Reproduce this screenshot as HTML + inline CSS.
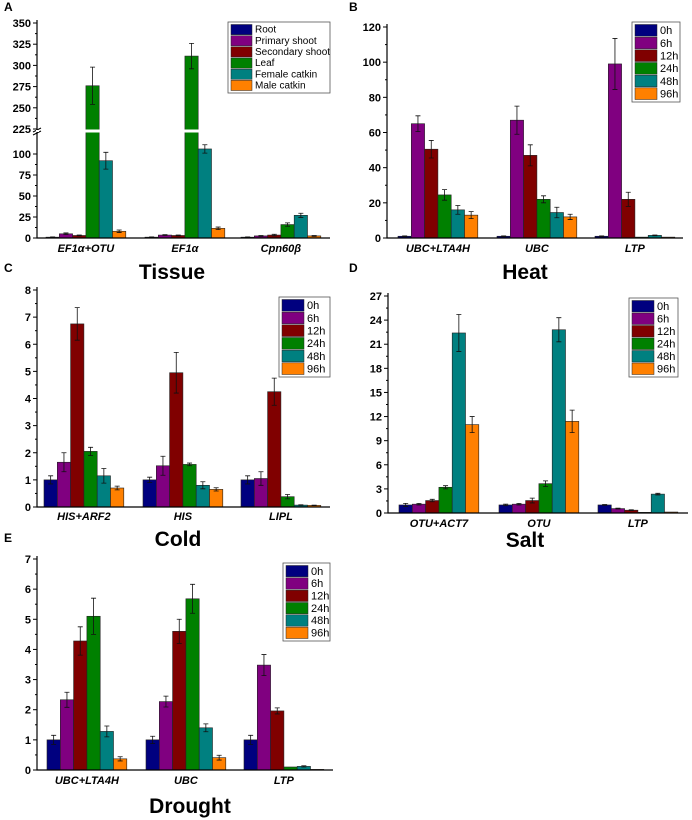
<!DOCTYPE html>
<html><head><meta charset="utf-8"><style>
body{margin:0;background:#fff}
svg{display:block;font-family:"Liberation Sans",sans-serif}
</style></head><body>
<svg id="c" width="692" height="820" viewBox="0 0 692 820" xmlns="http://www.w3.org/2000/svg"></svg>
<script>
const colors=["#00007f","#800080","#800000","#008000","#008080","#ff8000"];
const timeSeries=["0h","6h","12h","24h","48h","96h"];
const tissueSeries=["Root","Primary shoot","Secondary shoot","Leaf","Female catkin","Male catkin"];

const catA=["EF1α+OTU","EF1α","Cpn60β"];
const valA=[[1,1,1],[5,3.5,2.5],[3,3,3.5],[276,311,16],[92,106,27],[8,11.5,2.5]];
const errA=[[0.3,0.3,0.3],[1,0.5,0.5],[0.5,0.5,1],[22,15,2],[10,5,2.5],[1.5,1.5,0.5]];
const ticksAlow=[0,25,50,75,100];
const ticksAhigh=[225,250,275,300,325,350];

const catB=["UBC+LTA4H","UBC","LTP"];
const valB=[[1,1,1],[65,67,99],[50.5,47,22],[24.5,22,0.5],[16,14.5,1.5],[13,12,0.5]];
const errB=[[0.2,0.2,0.2],[4.5,8,14.5],[5,6,4],[3,2,0],[2.5,3,0.2],[2,1.5,0]];
const ticksB=[0,20,40,60,80,100,120];

const catC=["HIS+ARF2","HIS","LIPL"];
const valC=[[1,1,1],[1.65,1.52,1.05],[6.75,4.95,4.25],[2.05,1.57,0.38],[1.15,0.8,0.07],[0.7,0.65,0.06]];
const errC=[[0.15,0.1,0.15],[0.35,0.35,0.25],[0.6,0.75,0.5],[0.15,0.05,0.08],[0.27,0.13,0.01],[0.07,0.06,0.01]];
const ticksC=[0,1,2,3,4,5,6,7,8];

const catD=["OTU+ACT7","OTU","LTP"];
const valD=[[1,1,1],[1.1,1.1,0.55],[1.55,1.55,0.35],[3.2,3.65,0.08],[22.4,22.8,2.35],[11,11.4,0.12]];
const errD=[[0.2,0.1,0.05],[0.1,0.1,0.05],[0.15,0.3,0.05],[0.2,0.35,0],[2.3,1.5,0.1],[1,1.4,0]];
const ticksD=[0,3,6,9,12,15,18,21,24,27];

const catE=["UBC+LTA4H","UBC","LTP"];
const valE=[[1,1,1],[2.33,2.27,3.48],[4.28,4.6,1.96],[5.1,5.68,0.1],[1.28,1.4,0.12],[0.37,0.41,0.02]];
const errE=[[0.15,0.12,0.15],[0.25,0.18,0.35],[0.47,0.4,0.1],[0.6,0.48,0],[0.18,0.13,0.02],[0.07,0.08,0]];
const ticksE=[0,1,2,3,4,5,6,7];

const svg=document.getElementById('c');
const NS="http://www.w3.org/2000/svg";
function mk(tag,attrs,parent){const e=document.createElementNS(NS,tag);for(const k in attrs)e.setAttribute(k,attrs[k]);(parent||svg).appendChild(e);return e;}
function txt(s,attrs,parent){const e=mk('text',attrs,parent);e.textContent=s;return e;}

function panel(o){
  const g=mk('g',{});
  
  
  const bw=13.3;
  const y=o.yScale;
  for(let s=0;s<o.vals.length;s++){
    for(let c=0;c<o.cats.length;c++){
      const v=o.vals[s][c],e=o.errs[s][c];
      const x=o.gx[c]+s*bw;
      const yt=y(v);
      const r=mk('rect',{x:x,y:yt,width:bw,height:Math.max(0.5,o.y0-yt),fill:colors[s],stroke:"#222","stroke-width":0.6},g);
      
      
      if(e>0){
        const cx=x+bw/2,y1=y(v+e),y2=y(v-e);
        const eb=mk('path',{d:`M${cx},${y1}V${y2}M${cx-2.5},${y1}H${cx+2.5}M${cx-2.5},${y2}H${cx+2.5}`,stroke:"#111","stroke-width":0.8,fill:"none"},g);
        
        
      }
    }
  }
  if(o.breakY){
    const br=mk('rect',{x:o.x0+1,y:o.breakY-1.5,width:o.xEnd-o.x0-1,height:3,fill:"#fff"},g);
    
    
  }
  const ax=mk('path',{d:`M${o.x0},${o.yTop}V${o.y0}H${o.xEnd}`,stroke:"#000","stroke-width":1.2,fill:"none"},g);
  
  
  if(o.breakY){
    const bm=mk('path',{d:`M${o.x0-4},${o.breakY+1}L${o.x0+4},${o.breakY-3}M${o.x0-4},${o.breakY+4}L${o.x0+4},${o.breakY}`,stroke:"#000","stroke-width":1},g);
    
    
    mk('rect',{x:o.x0-1,y:o.breakY-1,width:3,height:2,fill:"#fff"},g);
  }
  o.ticks.forEach((t,i)=>{
    const ty=y(t);
    mk('line',{x1:o.x0-4,x2:o.x0,y1:ty,y2:ty,stroke:"#000","stroke-width":1},g);
    if(i<o.ticks.length-1 && !(o.breakY && t===100)){
      const my=(ty+y(o.ticks[i+1]))/2;
      mk('line',{x1:o.x0-2,x2:o.x0,y1:my,y2:my,stroke:"#000","stroke-width":1},g);
    }
    const tl=txt(String(t),{x:o.x0-6,y:ty+4,"text-anchor":"end","font-size":11,"font-weight":"bold"},g);
    
    
  });
  o.cats.forEach((c,i)=>{
    const cl=txt(c,{x:o.gx[i]+bw*3,y:o.labY,"text-anchor":"middle","font-size":11,"font-weight":"bold","font-style":"italic"},g);
    
    
  });
  const ti=txt(o.title,{x:o.titleX,y:o.titleY,"text-anchor":"middle","font-size":21,"font-weight":"bold"},g);
  
  
  const pl=txt(o.letter,{x:o.letterX,y:o.letterY,"font-size":12,"font-weight":"bold"},g);
  
  
  const L=o.legend;
  const lg=mk('g',{},g);
  
  
  mk('rect',{x:L.x,y:L.y,width:L.w,height:L.h,fill:"#fff",stroke:"#555","stroke-width":0.8},lg);
  const rh=(L.h-4)/6;
  o.series.forEach((s,i)=>{
    const ry=L.y+2+i*rh;
    const sw=mk('rect',{x:L.x+3,y:ry+0.5,width:L.sw,height:rh-1,fill:colors[i],stroke:"#222","stroke-width":0.5},lg);
    
    
    const le=txt(s,{x:L.x+L.sw+6,y:ry+rh-2.5,"font-size":L.fs||11},lg);
    
    
  });
}
function lin(v0,p0,v1,p1){return v=>p0+(v-v0)*(p1-p0)/(v1-v0);}

const aLow=lin(0,238,100,154), aHigh=lin(225,129,350,23);
function yA(v){return v>=180?aHigh(v):aLow(v);}
panel({name:'panel-a-tissue',cats:catA,vals:valA,errs:errA,series:tissueSeries,ticks:ticksAlow.concat(ticksAhigh),
  yScale:yA,y0:238,yTop:20,x0:37,xEnd:330,gx:[46,145,241],breakY:131,labY:252,title:"Tissue",titleX:172,titleY:279,
  letter:"A",letterX:4,letterY:11,legend:{x:228,y:22,w:102,h:71,sw:21,fs:10}});
panel({name:'panel-b-heat',cats:catB,vals:valB,errs:errB,series:timeSeries,ticks:ticksB,
  yScale:lin(0,238,120,27),y0:238,yTop:24,x0:387,xEnd:683,gx:[398,497,595],labY:252,title:"Heat",titleX:525,titleY:279,
  letter:"B",letterX:349,letterY:11,legend:{x:632,y:22,w:48,h:80,sw:22}});
panel({name:'panel-c-cold',cats:catC,vals:valC,errs:errC,series:timeSeries,ticks:ticksC,
  yScale:lin(0,507,8,290),y0:507,yTop:287,x0:37,xEnd:330,gx:[44,143,241],labY:520,title:"Cold",titleX:178,titleY:546,
  letter:"C",letterX:4,letterY:272,legend:{x:279,y:297,w:51,h:80,sw:22}});
panel({name:'panel-d-salt',cats:catD,vals:valD,errs:errD,series:timeSeries,ticks:ticksD,
  yScale:lin(0,513,27,296),y0:513,yTop:293,x0:388,xEnd:688,gx:[399,499,598],labY:527,title:"Salt",titleX:525,titleY:547,
  letter:"D",letterX:349,letterY:272,legend:{x:629,y:298,w:49,h:79,sw:22}});
panel({name:'panel-e-drought',cats:catE,vals:valE,errs:errE,series:timeSeries,ticks:ticksE,
  yScale:lin(0,770,7,559),y0:770,yTop:556,x0:37,xEnd:333,gx:[47,146,244],labY:784,title:"Drought",titleX:190,titleY:813,
  letter:"E",letterX:4,letterY:542,legend:{x:283,y:563,w:47,h:78,sw:22}});
</script>
</body></html>
